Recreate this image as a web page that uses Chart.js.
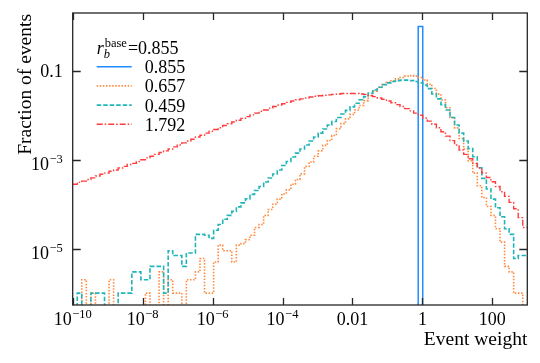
<!DOCTYPE html>
<html><head><meta charset="utf-8">
<script src="https://cdn.jsdelivr.net/npm/chart.js@4/dist/chart.umd.min.js"></script>
<style>html,body{margin:0;padding:0;background:#fff}canvas{display:block}</style>
</head><body>
<canvas id="c" width="540" height="363"></canvas>
<script>
// ---- histogram binning (log10 of event weight) ----
const binLogMin = -10, binLogMax = 3, nBins = 100;

// ---- legend ----
const legendTitleValue = "0.855";
const seriesLabels = ["0.855", "0.657", "0.459", "1.792"];

// ---- axis ticks ----
const xTickValues = [1e-10, 1e-8, 1e-6, 1e-4, 1e-2, 1, 100];
const xTickLabels = [["10","\u221210"],["10","\u22128"],["10","\u22126"],["10","\u22124"],["0.01",""],["1",""],["100",""]];
const yTickValues = [0.1, 1e-3, 1e-5];
const yTickLabels = [["0.1",""],["10","\u22123"],["10","\u22125"]];
const xTitle = "Event weight";
const yTitle = "Fraction of events";

// ---- series: fraction of events per bin (100 bins) ----
const frac0855 = [
 0,0,0,0,0,0,0,0,0,0, 0,0,0,0,0,0,0,0,0,0,
 0,0,0,0,0,0,0,0,0,0, 0,0,0,0,0,0,0,0,0,0,
 0,0,0,0,0,0,0,0,0,0, 0,0,0,0,0,0,0,0,0,0,
 0,0,0,0,0,0,0,0,0,0, 0,0,0,0,0,0,1.0,0,0,0,
 0,0,0,0,0,0,0,0,0,0, 0,0,0,0,0,0,0,0,0,0
];
const frac0657 = [
 0,0,2e-6,0,1e-6,0,0,0,2e-6,0,
 0,0,0,0,0,0,1e-6,0,0,3e-6,
 0,2e-6,1e-6,1e-6,0,2e-6,2e-6,3e-6,6e-6,1e-6,
 1e-6,5e-6,1.2e-5,9e-6,9e-6,5e-6,1.2e-5,1.3e-5,1.6e-5,2.0e-5,
 3.0e-5,3.5e-5,5.6e-5,7.6e-5,1.0e-4,1.3e-4,1.7e-4,2.1e-4,2.8e-4,3.6e-4,
 4.8e-4,7.1e-4,8.9e-4,1.2e-3,1.58e-3,2.1e-3,2.7e-3,3.5e-3,5.0e-3,6.5e-3,
 8.3e-3,1.05e-2,1.32e-2,1.66e-2,2.14e-2,2.82e-2,3.47e-2,4.27e-2,4.9e-2,5.5e-2,
 6.0e-2,6.6e-2,7.1e-2,7.6e-2,7.8e-2,7.6e-2,7.1e-2,6.2e-2,5.0e-2,4.0e-2,
 3.0e-2,2.2e-2,1.48e-2,8.9e-3,5.2e-3,3.0e-3,1.74e-3,9.5e-4,5.0e-4,2.6e-4,
 1.41e-4,8.9e-5,5.6e-5,2.8e-5,1.4e-5,4e-6,3e-6,1e-6,1e-6,0
];
const frac0459 = [
 0,1e-6,0,0,1e-6,1e-6,1e-6,0,0,0,
 1e-6,1e-6,1e-6,3e-6,3e-6,2e-6,2e-6,4e-6,4e-6,4e-6,
 1e-6,9e-6,7e-6,7e-6,4e-6,8e-6,8e-6,2.1e-5,2.1e-5,2.0e-5,
 1.7e-5,2.6e-5,3.5e-5,4.6e-5,5.6e-5,6.9e-5,8.7e-5,1.07e-4,1.32e-4,1.66e-4,
 2.04e-4,2.51e-4,3.16e-4,3.89e-4,4.79e-4,5.89e-4,7.41e-4,9.12e-4,1.15e-3,1.41e-3,
 1.74e-3,2.14e-3,2.63e-3,3.24e-3,3.98e-3,4.9e-3,6.03e-3,7.24e-3,8.91e-3,1.07e-2,
 1.29e-2,1.55e-2,1.86e-2,2.24e-2,2.63e-2,3.16e-2,3.72e-2,4.27e-2,4.9e-2,5.37e-2,
 5.75e-2,6.03e-2,6.17e-2,6.17e-2,6.03e-2,5.75e-2,5.37e-2,4.79e-2,3.98e-2,3.02e-2,
 2.34e-2,1.74e-2,1.32e-2,8.91e-3,6.03e-3,3.98e-3,2.63e-3,1.78e-3,1.17e-3,6.6e-4,
 3.8e-4,2.2e-4,1.3e-4,8.3e-5,5.2e-5,2.8e-5,2.1e-5,6e-6,7e-6,7e-6
];
const frac1792 = [
 2.8e-4,3.1e-4,3.3e-4,3.6e-4,3.9e-4,4.3e-4,4.7e-4,5.0e-4,5.5e-4,5.9e-4,
 6.5e-4,7.1e-4,7.8e-4,8.3e-4,9.1e-4,1.0e-3,1.10e-3,1.20e-3,1.32e-3,1.45e-3,
 1.58e-3,1.74e-3,1.95e-3,2.14e-3,2.40e-3,2.63e-3,2.88e-3,3.24e-3,3.55e-3,3.98e-3,
 4.37e-3,4.79e-3,5.25e-3,5.89e-3,6.46e-3,7.08e-3,7.76e-3,8.51e-3,9.33e-3,1.02e-2,
 1.12e-2,1.23e-2,1.32e-2,1.45e-2,1.58e-2,1.70e-2,1.82e-2,1.95e-2,2.09e-2,2.24e-2,
 2.34e-2,2.45e-2,2.57e-2,2.69e-2,2.75e-2,2.82e-2,2.88e-2,2.95e-2,3.02e-2,3.09e-2,
 3.09e-2,3.09e-2,3.09e-2,3.02e-2,2.95e-2,2.75e-2,2.63e-2,2.45e-2,2.29e-2,2.09e-2,
 1.91e-2,1.74e-2,1.58e-2,1.41e-2,1.26e-2,1.12e-2,1.0e-2,8.71e-3,7.41e-3,6.31e-3,
 5.25e-3,4.27e-3,3.39e-3,2.69e-3,2.14e-3,1.66e-3,1.32e-3,1.05e-3,8.3e-4,6.5e-4,
 5.0e-4,4.0e-4,3.2e-4,2.5e-4,1.9e-4,1.5e-4,1.1e-4,7.9e-5,5.0e-5,3.0e-5
];

// ---- build step-histogram points (bin edges from the binning definition) ----
const edges = Array.from({length: nBins + 1}, (_, k) => Math.pow(10, binLogMin + (binLogMax - binLogMin) * k / nBins));
const EMPTY = 1e-9; // empty bins drawn below the visible range
function stepData(vals) {
  const pts = vals.map((v, k) => ({x: edges[k], y: v > 0 ? v : EMPTY}));
  const last = vals[vals.length - 1];
  pts.push({x: edges[nBins], y: last > 0 ? last : EMPTY});
  return pts;
}

const styles = [
  {color: "#1f8cff", width: 1.5, dash: []},
  {color: "#ff8a3d", width: 1.6, dash: [1.5, 1.6]},
  {color: "#22b5b8", width: 1.6, dash: [4.5, 2]},
  {color: "#ff3b3b", width: 1.4, dash: [6, 2, 1.5, 2]}
];
const seriesValues = [frac0855, frac0657, frac0459, frac1792];
const drawOrder = [3, 2, 1, 0];

const datasets = seriesValues.map((vals, i) => ({
  label: seriesLabels[i],
  data: stepData(vals),
  stepped: 'before',
  borderColor: styles[i].color,
  borderWidth: styles[i].width,
  borderDash: styles[i].dash,
  fill: false,
  pointRadius: 0,
  order: drawOrder[i]
}));

const FONT = "'Liberation Serif', 'Times New Roman', serif";

function drawPow(ctx, base, exp, x, y, align, size, supSize, raise) {
  ctx.font = size + "px " + FONT;
  const wb = ctx.measureText(base).width;
  ctx.font = supSize + "px " + FONT;
  const we = exp ? ctx.measureText(exp).width + 0.5 : 0;
  const total = wb + we;
  let x0 = align === 'center' ? x - total / 2 : (align === 'right' ? x - total : x);
  ctx.textAlign = 'left';
  ctx.textBaseline = 'alphabetic';
  ctx.font = size + "px " + FONT;
  ctx.fillText(base, x0, y);
  if (exp) {
    ctx.font = supSize + "px " + FONT;
    ctx.fillText(exp, x0 + wb + 0.5, y - raise);
  }
}

const axesPlugin = {
  id: 'axesDecor',
  afterDraw(chart) {
    const ctx = chart.ctx, a = chart.chartArea, xs = chart.scales.x, ys = chart.scales.y;
    ctx.save();
    ctx.strokeStyle = "#262626";
    ctx.lineWidth = 1.3;
    ctx.setLineDash([]);
    ctx.strokeRect(a.left, a.top, a.right - a.left, a.bottom - a.top);
    // ticks (inward, mirrored)
    ctx.beginPath();
    xTickValues.forEach(v => {
      const px = Math.round(xs.getPixelForValue(v)) + 0.5;
      ctx.moveTo(px, a.bottom); ctx.lineTo(px, a.bottom - 7);
      ctx.moveTo(px, a.top); ctx.lineTo(px, a.top + 7);
    });
    yTickValues.forEach(v => {
      const py = Math.round(ys.getPixelForValue(v)) + 0.5;
      ctx.moveTo(a.left, py); ctx.lineTo(a.left + 8, py);
      ctx.moveTo(a.right, py); ctx.lineTo(a.right - 8, py);
    });
    ctx.stroke();
    // tick labels
    ctx.fillStyle = "#000";
    xTickValues.forEach((v, i) => {
      const px = xs.getPixelForValue(v);
      drawPow(ctx, xTickLabels[i][0], xTickLabels[i][1], px, a.bottom + 20, 'center', 18, 12.5, 7);
    });
    yTickValues.forEach((v, i) => {
      const py = ys.getPixelForValue(v);
      const hasExp = !!yTickLabels[i][1];
      drawPow(ctx, yTickLabels[i][0], yTickLabels[i][1], a.left - 10, py + (hasExp ? 10 : 6.5), 'right', 18, 12.5, 7);
    });
    // axis titles
    ctx.font = "19.5px " + FONT;
    ctx.textAlign = 'right';
    ctx.textBaseline = 'alphabetic';
    ctx.fillText(xTitle, a.right, a.bottom + 40);
    ctx.save();
    ctx.translate(31, a.top + 1);
    ctx.rotate(-Math.PI / 2);
    ctx.textAlign = 'right';
    ctx.fillText(yTitle, 0, 0);
    ctx.restore();
    // legend
    const lx0 = a.left + 24, lx1 = a.left + 59, tx = a.left + 72;
    // title: r_b^base = 0.855
    ctx.textAlign = 'left';
    ctx.font = "italic 18px " + FONT;
    ctx.fillText("r", lx0, a.top + 40.5);
    const wr = ctx.measureText("r").width;
    ctx.font = "italic 12.5px " + FONT;
    ctx.fillText("b", lx0 + wr, a.top + 45);
    ctx.font = "12.5px " + FONT;
    ctx.fillText("base", lx0 + wr + 1, a.top + 33.5);
    const wbase = ctx.measureText("base").width;
    ctx.font = "18px " + FONT;
    ctx.fillText("=" + legendTitleValue, lx0 + wr + wbase + 2, a.top + 40.5);
    seriesLabels.forEach((lab, i) => {
      const ly = a.top + 53.7 + i * 19.2;
      ctx.strokeStyle = styles[i].color;
      ctx.lineWidth = styles[i].width;
      ctx.setLineDash(styles[i].dash);
      ctx.beginPath();
      ctx.moveTo(lx0, ly); ctx.lineTo(lx1, ly);
      ctx.stroke();
      ctx.setLineDash([]);
      ctx.fillStyle = "#000";
      ctx.font = "18px " + FONT;
      ctx.fillText(lab, tx, ly + 6.5);
    });
    ctx.restore();
  }
};

new Chart(document.getElementById('c').getContext('2d'), {
  type: 'line',
  data: {datasets},
  options: {
    animation: false,
    responsive: false,
    devicePixelRatio: 1,
    layout: {padding: {left: 72.7, right: 12.7, top: 13, bottom: 58}},
    plugins: {legend: {display: false}, tooltip: {enabled: false}},
    elements: {point: {radius: 0}, line: {tension: 0}},
    scales: {
      x: {type: 'logarithmic', min: 1e-10, max: 1e3, display: false},
      y: {type: 'logarithmic', min: 5.4e-7, max: 2, display: false}
    }
  },
  plugins: [axesPlugin]
});
</script>
</body></html>
